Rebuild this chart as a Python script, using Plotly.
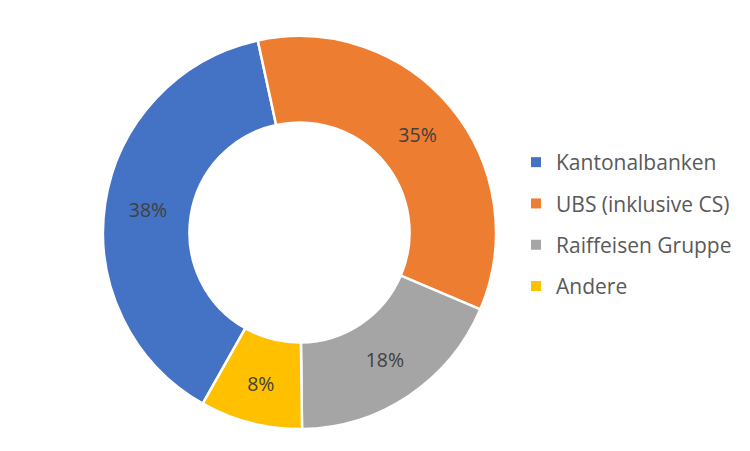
import plotly.graph_objects as go

labels = ["Kantonalbanken", "UBS (inklusive CS)", "Raiffeisen Gruppe", "Andere"]
values = [38.4, 34.8, 18.4, 8.4]
colors = ["#4472C4", "#ED7D31", "#A5A5A5", "#FFC000"]

fig = go.Figure()
fig.add_trace(go.Pie(
    labels=labels, values=values, sort=False, direction="clockwise",
    rotation=209.5, hole=0.56,
    marker=dict(colors=colors, line=dict(color="white", width=2.5)),
    texttemplate="%{percent:.0%}", textposition="inside",
    insidetextorientation="horizontal",
    textfont=dict(family="Open Sans", size=19.5, color="#404040"),
    showlegend=False, hoverinfo="label+percent",
    domain=dict(x=[102/750, 497/750], y=[22/451, 415/451]),
))
for lab, col in zip(labels, colors):
    fig.add_trace(go.Scatter(
        x=[None], y=[None], mode="markers", name=lab, legendgroup=lab,
        marker=dict(symbol="square", size=10, color=col),
    ))

fig.update_layout(
    width=750, height=451, margin=dict(l=0, r=0, t=0, b=0),
    paper_bgcolor="white", plot_bgcolor="white",
    xaxis=dict(visible=False), yaxis=dict(visible=False),
    legend=dict(x=516/750, y=1 - 142/451, xanchor="left", yanchor="top",
                font=dict(family="Open Sans", size=21, color="#595959"),
                tracegroupgap=11, traceorder="grouped", itemclick=False),
    font=dict(family="Open Sans"),
)
fig.write_html("out.html")
